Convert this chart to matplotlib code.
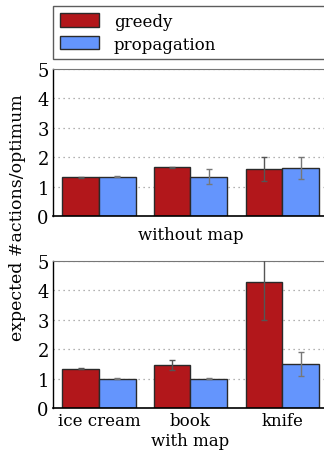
import matplotlib
matplotlib.use("Agg")
import matplotlib.pyplot as plt
import numpy as np

# data
objects = ["ice cream", "book", "knife"]
methods = ["greedy", "propagation"]

greedy_nomap = [1.32, 1.66, 1.60]
greedy_nomap_err = [0.02, 0.02, 0.40]
prop_nomap = [1.33, 1.34, 1.62]
prop_nomap_err = [0.02, 0.26, 0.37]

greedy_map = [1.33, 1.45, 4.30]
greedy_map_err = [0.02, 0.17, 1.30]
prop_map = [1.00, 1.00, 1.50]
prop_map_err = [0.01, 0.01, 0.41]

red = "#b2171b"
blue = "#6495fd"

plt.rcParams["font.family"] = "DejaVu Serif"
plt.rcParams["font.size"] = 12

fig = plt.figure(figsize=(3.24, 4.60), dpi=100)
ax_top = fig.add_axes([53/324, 1-217/460, 275/324, 147/460])
ax_bot = fig.add_axes([53/324, 1-409/460, 275/324, 147/460])

x = np.arange(len(objects))
w = 0.4

def draw(ax, g, ge, p, pe):
    bars_g = ax.bar(x - w/2, g, w, color=red, edgecolor="#2a2a2a", linewidth=1.0,
                    label=methods[0], zorder=2)
    bars_p = ax.bar(x + w/2, p, w, color=blue, edgecolor="#2a2a2a", linewidth=1.0,
                    label=methods[1], zorder=2)
    ax.errorbar(x - w/2, g, yerr=ge, fmt="none", ecolor="#555555", elinewidth=1,
                capsize=2.5, zorder=3)
    ax.errorbar(x + w/2, p, yerr=pe, fmt="none", ecolor="#777777", elinewidth=1,
                capsize=2.5, zorder=3)
    ax.set_xlim(-0.5, 2.5)
    ax.set_ylim(0, 5)
    ax.set_yticks([0, 1, 2, 3, 4, 5])
    ax.yaxis.grid(True, linestyle=(0, (1, 3)), color="#999999", linewidth=0.9, zorder=0)
    ax.set_axisbelow(True)
    ax.tick_params(length=0, labelsize=13, pad=3)
    ax.spines["top"].set_color("#777777")
    ax.spines["right"].set_visible(False)
    ax.spines["left"].set_linewidth(1.0)
    ax.spines["bottom"].set_linewidth(1.2)
    return bars_g, bars_p

bg, bp = draw(ax_top, greedy_nomap, greedy_nomap_err, prop_nomap, prop_nomap_err)
draw(ax_bot, greedy_map, greedy_map_err, prop_map, prop_map_err)

ax_top.set_xticks(x)
ax_top.set_xticklabels([])
ax_top.set_xlabel("without map", fontsize=12, labelpad=4)

ax_bot.set_xticks(x)
ax_bot.set_xticklabels(objects, fontsize=12)
ax_bot.set_xlabel("with map", fontsize=12, labelpad=2)

fig.text(0.055, 1-218/460, "expected #actions/optimum", rotation=90,
         ha="center", va="center", fontsize=12.5)

leg = fig.legend([bg, bp], methods, loc="upper left",
                 bbox_to_anchor=(53/324, 1-63/460, 290/324, 56/460),
                 mode="expand", fancybox=False, frameon=True, fontsize=12,
                 handlelength=2.35, handleheight=0.85, handletextpad=0.9,
                 labelspacing=0.35, borderaxespad=0, borderpad=0.4)
leg.get_frame().set_edgecolor("#333333")
leg.get_frame().set_linewidth(1.0)

fig.savefig("out.png", dpi=100)
